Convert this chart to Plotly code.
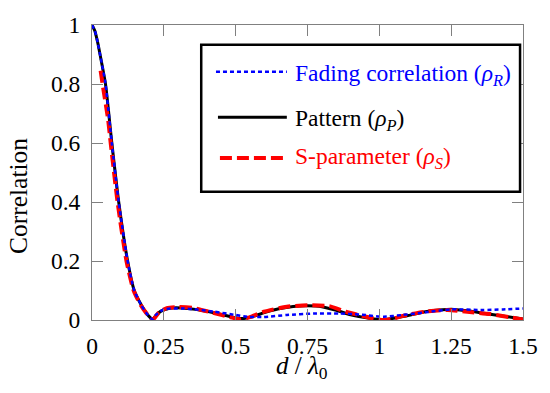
import plotly.graph_objects as go

# ---- data ----
d_pattern = [0, 0.01, 0.02, 0.03, 0.047, 0.069, 0.093, 0.124, 0.147, 0.172, 0.19, 0.205, 0.212,
             0.22, 0.24, 0.27, 0.31, 0.36, 0.42, 0.48, 0.52, 0.56, 0.6, 0.65, 0.7, 0.75, 0.8,
             0.85, 0.9, 0.95, 1.0, 1.02, 1.05, 1.1, 1.16, 1.22, 1.26, 1.31, 1.38, 1.44, 1.5]
rho_pattern = [1.0, 0.98, 0.94, 0.89, 0.8, 0.6, 0.4, 0.2, 0.1, 0.05, 0.022, 0.006, 0.002,
               0.012, 0.03, 0.04, 0.041, 0.036, 0.025, 0.012, 0.005, 0.012, 0.025, 0.038, 0.046,
               0.048, 0.045, 0.033, 0.018, 0.008, 0.002, 0.001, 0.006, 0.015, 0.028, 0.035,
               0.036, 0.031, 0.02, 0.012, 0.003]

d_sparam = [0.03, 0.039, 0.056, 0.065, 0.089, 0.12, 0.145, 0.17, 0.19, 0.205,
            0.213, 0.233, 0.26, 0.3, 0.35, 0.42, 0.48, 0.518, 0.55, 0.598, 0.678, 0.75, 0.826,
            0.884, 0.929, 0.98, 1.015, 1.05, 1.078, 1.158, 1.238, 1.306, 1.386, 1.45, 1.5]
rho_sparam = [0.845, 0.786, 0.68, 0.6, 0.4, 0.2, 0.1, 0.05, 0.022, 0.005,
              0.002, 0.026, 0.04, 0.044, 0.041, 0.025, 0.01, 0.002, 0.01, 0.028, 0.045, 0.05,
              0.047, 0.028, 0.017, 0.005, 0.0, 0.005, 0.013, 0.028, 0.034, 0.028, 0.02, 0.01, 0.002]

d_fading = [0, 0.01, 0.02, 0.03, 0.047, 0.069, 0.093, 0.124, 0.147, 0.172, 0.19, 0.205, 0.212,
            0.22, 0.25, 0.313, 0.37, 0.427, 0.5, 0.541, 0.598, 0.678, 0.77, 0.86, 0.93, 1.015,
            1.08, 1.16, 1.25, 1.36, 1.43, 1.5]
rho_fading = [1.0, 0.98, 0.94, 0.89, 0.8, 0.6, 0.4, 0.2, 0.1, 0.05, 0.022, 0.006, 0.003,
              0.015, 0.036, 0.039, 0.035, 0.028, 0.017, 0.011, 0.01, 0.017, 0.022, 0.022, 0.019,
              0.011, 0.017, 0.026, 0.036, 0.034, 0.036, 0.039]

x_ticks = [0, 0.25, 0.5, 0.75, 1, 1.25, 1.5]
x_tick_labels = ["0", "0.25", "0.5", "0.75", "1", "1.25", "1.5"]
y_ticks = [0, 0.2, 0.4, 0.6, 0.8, 1]
y_tick_labels = ["0", "0.2", "0.4", "0.6", "0.8", "1"]

legend_names = ["Fading correlation (<i>ρ<sub>R</sub></i>)",
                "Pattern (<i>ρ<sub>P</sub></i>)",
                "S-parameter (<i>ρ<sub>S</sub></i>)"]

BLUE = "#0000ff"
BLACK = "#000000"
RED = "#ff0000"
FONT = "Liberation Serif, Times New Roman, serif"
BLUE_DASH = "4px,3px"
RED_DASH = "12px,5px"

fig = go.Figure()
fig.add_trace(go.Scatter(x=d_pattern, y=rho_pattern, mode="lines",
                         line=dict(color=BLACK, width=3, shape="spline", smoothing=0.6),
                         showlegend=False))
fig.add_trace(go.Scatter(x=d_sparam, y=rho_sparam, mode="lines",
                         line=dict(color=RED, width=4, dash=RED_DASH, shape="spline", smoothing=0.6),
                         showlegend=False))
fig.add_trace(go.Scatter(x=d_fading, y=rho_fading, mode="lines",
                         line=dict(color=BLUE, width=2.5, dash=BLUE_DASH, shape="spline", smoothing=0.6),
                         showlegend=False))

# plot area in window pixels: left 92, right 530, top 23, bottom 320
L, R, T, B = 92, 530, 23, 320
W, H = 550, 393


def px(xp):
    return (xp - L) / (R - L)


def py(yp):
    return (B - yp) / (B - T)


shapes = [
    dict(type="rect", xref="paper", yref="paper", x0=px(203), x1=px(527), y0=py(191), y1=py(43),
         line=dict(color="black", width=2.5), fillcolor="white", layer="above"),
]
rows = [(70, BLUE, BLUE_DASH, 2.5, 218), (116, BLACK, "solid", 3, 220), (157, RED, RED_DASH, 4, 222)]
annotations = []
text_y = [73, 119, 157]
for (yy, c, dsh, w, x0), name, ty in zip(rows, legend_names, text_y):
    shapes.append(dict(type="line", xref="paper", yref="paper", x0=px(x0), x1=px(290),
                       y0=py(yy), y1=py(yy), line=dict(color=c, width=w, dash=dsh), layer="above"))
    annotations.append(dict(text=name, xref="paper", yref="paper", x=px(296), y=py(ty),
                            xanchor="left", yanchor="middle", showarrow=False,
                            font=dict(family=FONT, size=23.5, color=c)))

annotations.append(dict(text="Correlation", xref="paper", yref="paper", x=px(18), y=py(195),
                        xanchor="center", yanchor="middle", textangle=-90, showarrow=False,
                        font=dict(family=FONT, size=25.5, color="black")))
annotations.append(dict(text="<i>d</i> / <i>λ</i><sub>0</sub>", xref="paper", yref="paper",
                        x=px(305), y=py(368), xanchor="center", yanchor="middle", showarrow=False,
                        font=dict(family=FONT, size=25, color="black")))

axis_common = dict(showline=True, linecolor="#808080", linewidth=1, mirror="ticks",
                   ticks="inside", ticklen=11, tickcolor="#808080", tickwidth=1,
                   showgrid=False, zeroline=False,
                   tickfont=dict(family=FONT, size=23.5, color="black"))

fig.update_layout(
    width=W, height=H,
    margin=dict(l=L, r=W - R, t=T, b=H - B),
    paper_bgcolor="white", plot_bgcolor="white",
    xaxis=dict(range=[0, 1.5], tickvals=x_ticks, ticktext=x_tick_labels,
               ticklabelstandoff=5, **axis_common),
    yaxis=dict(range=[0, 1], tickvals=y_ticks, ticktext=y_tick_labels,
               ticklabelstandoff=6, **axis_common),
    shapes=shapes,
    annotations=annotations,
    showlegend=False,
)

fig.write_html("out.html",
               config={"displayModeBar": False},
               post_script="document.body.style.margin='0';document.body.style.overflow='hidden';")
